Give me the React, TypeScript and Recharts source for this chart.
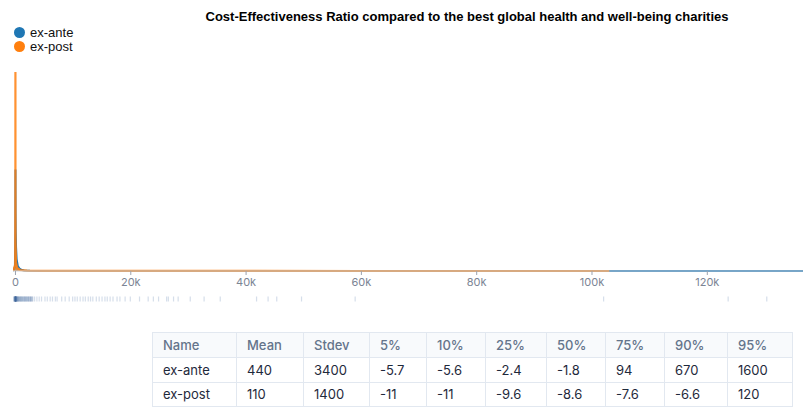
import React from "react";
import { ComposedChart, Area, XAxis, YAxis, Scatter } from "recharts";

const title = "Cost-Effectiveness Ratio compared to the best global health and well-being charities";
const seriesNames = ["ex-ante", "ex-post"];
const seriesColors = ["#1f77b4", "#ff7f0e"];

const exAnteX = [-430, -100, -20, -6, -3, -1, 2, 10, 40, 100, 200, 400, 700, 1000, 1500, 2500, 5000, 10000, 30000, 60000, 100000, 136600];
const exAnteY = [0, 2, 20, 45, 51, 48, 40, 30, 20, 12, 6, 2.5, 1.2, 0.6, 0.25, 0.1, 0.04, 0.02, 0.01, 0.005, 0.002, 0];
const exPostX = [-430, -60, -15, -11, -9, -7, -3, 10, 100, 300, 800, 2000, 5000, 20000, 60000, 103000];
const exPostY = [0, 3, 40, 90, 100, 85, 40, 15, 4, 1.5, 0.5, 0.15, 0.05, 0.02, 0.01, 0];

const xTicks = [0, 20000, 40000, 60000, 80000, 100000, 120000];
const xDomain = [-430, 136600];

const sampleValues = [
  -300, -250, -200, -150, -100, -80, -60, -40, -20, -10, -5, 0, 5, 10, 20, 40, 60, 80, 100, 150, 200, 250, 300,
  -200, -100, -50, 0, 50, 100, 200, 300, 400, 450, 500, 600, 700, 800, 900, 1000, 1100, 1150, 1300, 1400, 1500,
  1600, 1700, 1800, 1900, 2000, 2100, 2200, 2300, 2400, 2500, 2600, 2700, 2800, 2900, 3000,
  500, 700, 900, 1200, 1500, 1800, 2200, 2600,
  3300, 3700, 4100, 4500, 5100, 5500, 6000, 6400, 6900, 7200, 8000, 8600,
  9300, 9900, 10300, 10700, 11200, 11700, 12100, 12600, 13000, 13400, 14000, 14500, 15000, 15500, 15900, 16400, 16900, 17600, 18100,
  19000, 19900, 21500, 23000, 23900, 24800, 26200, 26500, 27400, 28200, 30300, 32700, 35500, 41800, 43800, 45300, 49600, 58900,
  102000, 123600, 130300,
];

const tableHeaders = ["Name", "Mean", "Stdev", "5%", "10%", "25%", "50%", "75%", "90%", "95%"];
const colWidths = [84, 67, 66, 57, 59, 61, 59, 59, 63, 65];
const meanValues = ["440", "110"];
const stdevValues = ["3400", "1400"];
const percentileValues = [
  ["-5.7", "-5.6", "-2.4", "-1.8", "94", "670", "1600"],
  ["-11", "-11", "-9.6", "-8.6", "-7.6", "-6.6", "120"],
];

const exAnteData = exAnteX.map((x, i) => ({ x, y: exAnteY[i] }));
const exPostData = exPostX.map((x, i) => ({ x, y: exPostY[i] }));
const sampleData = sampleValues.map((x) => ({ x, y: 0.5 }));

const fmt = (v: number) => (v === 0 ? "0" : `${v / 1000}k`);

const SampleTick = (props: any) => {
  const { cx, cy } = props;
  if (cx == null || cy == null) return null;
  return <rect x={cx - 0.5} y={cy - 2.5} width={1.2} height={5} fill="#41699f" fillOpacity={0.22} />;
};

export default function App() {
  return (
    <div style={{ position: "absolute", left: 0, top: 0, width: 803, height: 420, background: "#fff", overflow: "hidden" }}>
      <div
        style={{
          position: "absolute", left: 0, width: 934, top: 9, textAlign: "center",
          fontFamily: "'Liberation Sans', Arial, sans-serif", fontWeight: "bold", fontSize: 13, color: "#000",
          whiteSpace: "nowrap",
        }}
      >
        {title}
      </div>
      {seriesNames.map((n, i) => (
        <div
          key={n}
          style={{
            position: "absolute", left: 14, top: 25 + i * 14, height: 15, display: "flex", alignItems: "center",
            fontFamily: "'Liberation Sans', Arial, sans-serif", fontSize: 13, color: "#111",
          }}
        >
          <span style={{ display: "inline-block", width: 11, height: 11, borderRadius: 6, background: seriesColors[i], marginRight: 5 }} />
          {n}
        </div>
      ))}
      <div style={{ position: "absolute", left: 0, top: 0 }}>
        <ComposedChart width={803} height={301} margin={{ top: 72, right: 0, left: 13, bottom: 0 }}>
          <XAxis
            type="number"
            dataKey="x"
            domain={xDomain}
            allowDataOverflow
            ticks={xTicks}
            tickFormatter={fmt}
            height={30}
            tickSize={4}
            tickMargin={3}
            tick={{ fontSize: 11, fill: "#7b8494", fontFamily: "Inter, sans-serif" }}
            tickLine={{ stroke: "#9ca3af" }}
            axisLine={{ stroke: "#d1d5db" }}
          />
          <YAxis type="number" domain={[0, 100]} hide width={0} />
          <Area
            data={exAnteData}
            dataKey="y"
            type="linear"
            stroke={seriesColors[0]}
            strokeWidth={2}
            fill={seriesColors[0]}
            fillOpacity={0.6}
            isAnimationActive={false}
            dot={false}
            activeDot={false}
          />
          <Area
            data={exPostData}
            dataKey="y"
            type="linear"
            stroke={seriesColors[1]}
            strokeWidth={2.2}
            strokeOpacity={0.85}
            fill={seriesColors[1]}
            fillOpacity={0.6}
            isAnimationActive={false}
            dot={false}
            activeDot={false}
          />
        </ComposedChart>
      </div>
      <div style={{ position: "absolute", left: 0, top: 289 }}>
        <ComposedChart width={803} height={20} margin={{ top: 0, right: 0, left: 13, bottom: 0 }}>
          <XAxis type="number" dataKey="x" domain={xDomain} allowDataOverflow hide />
          <YAxis type="number" dataKey="y" domain={[0, 1]} hide width={0} />
          <Scatter data={sampleData} dataKey="y" shape={SampleTick} isAnimationActive={false} />
        </ComposedChart>
      </div>
      <table
        style={{
          position: "absolute", left: 152, top: 332, borderCollapse: "collapse", tableLayout: "fixed",
          width: 640, fontFamily: "Inter, sans-serif", fontSize: 13,
        }}
      >
        <colgroup>
          {colWidths.map((w, i) => (
            <col key={i} style={{ width: w }} />
          ))}
        </colgroup>
        <thead>
          <tr style={{ background: "#f8fafc", height: 25 }}>
            {tableHeaders.map((h) => (
              <th
                key={h}
                style={{ border: "1px solid #e2e8f0", textAlign: "left", fontWeight: 500, color: "#64748b", padding: "0 10px" }}
              >
                {h}
              </th>
            ))}
          </tr>
        </thead>
        <tbody>
          {seriesNames.map((n, r) => (
            <tr key={n} style={{ height: 24.5 }}>
              {[n, meanValues[r], stdevValues[r], ...percentileValues[r]].map((v, c) => (
                <td key={c} style={{ border: "1px solid #e2e8f0", color: "#1e293b", padding: "0 10px" }}>
                  {v}
                </td>
              ))}
            </tr>
          ))}
        </tbody>
      </table>
    </div>
  );
}
